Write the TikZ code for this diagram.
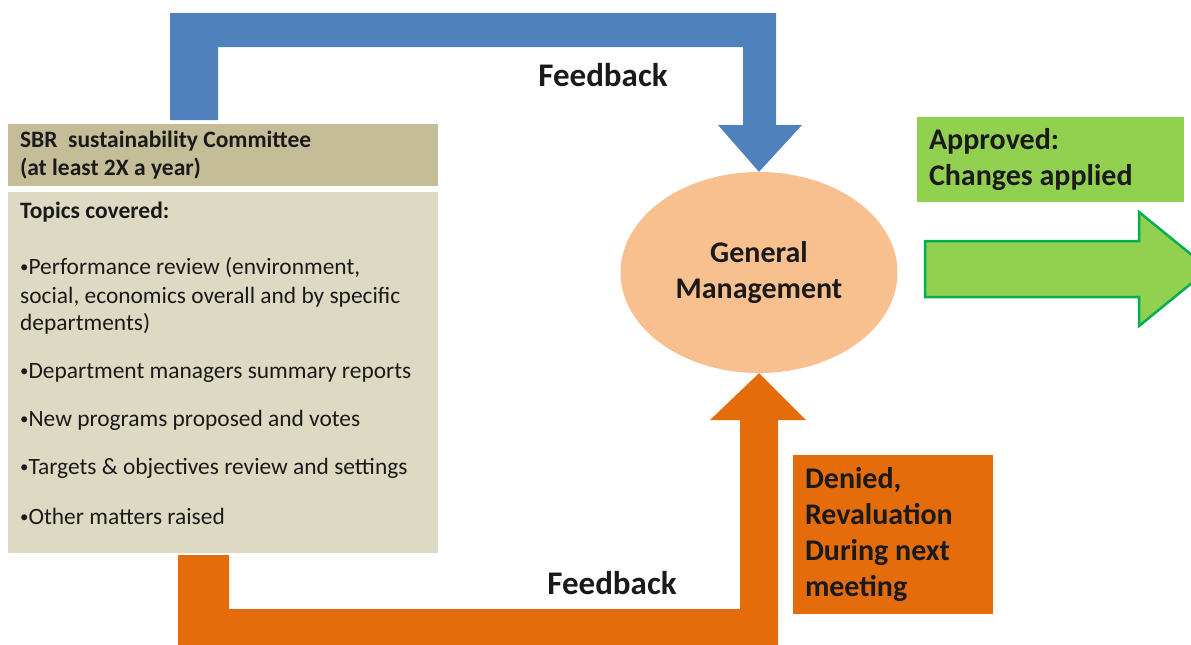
\documentclass[tikz,border=0pt]{standalone}
\usepackage{fontspec}
\setmainfont{Carlito}
\usetikzlibrary{shapes.geometric}
\definecolor{fbblue}{HTML}{4F81BD}
\definecolor{fborange}{HTML}{E46C0A}
\definecolor{hdrtan}{HTML}{C4BD97}
\definecolor{bodytan}{HTML}{DDD9C3}
\definecolor{gmpeach}{HTML}{F9C08F}
\definecolor{okgreen}{HTML}{92D050}
\definecolor{okedge}{HTML}{00B050}
\definecolor{ink}{HTML}{1A1A1A}
\newcommand\mybul{\raisebox{1.6pt}{\scalebox{0.72}{•}}}
\begin{document}
\begin{tikzpicture}[x=1pt,y=-1pt,
  panel/.style={rectangle, draw=none, inner sep=0pt, outer sep=0pt},
  boxtext/.style={panel, align=flush left, inner xsep=12pt, text=ink},
  listline/.style={anchor=base west, inner sep=0pt, text=ink, font=\fontsize{23.4}{28}\selectfont},
  bigtxt/.style={font=\bfseries\fontsize{30}{36}\selectfont},
  fblabel/.style={anchor=base, inner sep=0pt, text=ink, font=\bfseries\fontsize{33}{36}\selectfont}
]
\useasboundingbox (0,0) rectangle (1191,645);
\clip (0,0) rectangle (1191,645);

% committee header and body
\node[boxtext, fill=hdrtan, minimum width=430pt, minimum height=62pt, text width=406pt,
      font=\bfseries\fontsize{23.5}{28}\selectfont] (hdr) at (223,155)
  {SBR\ \ sustainability Committee\\(at least 2X a year)};
\node[panel, fill=bodytan, minimum width=430pt, minimum height=361pt] (body) at (223,372.5) {};

\node[listline, font=\bfseries\fontsize{23.5}{28}\selectfont] (t0) at (20,218) {Topics covered:};
\node[listline] (t1) at (20,274) {\mybul Performance review (environment,};
\node[listline] (t1b) at (20,303) {social, economics overall and by specific};
\node[listline] (t1c) at (20,330) {departments)};
\node[listline] (t2) at (20,378) {\mybul Department managers summary reports};
\node[listline] (t3) at (20,426) {\mybul New programs proposed and votes};
\node[listline] (t4) at (20,474) {\mybul Targets \& objectives review and settings};
\node[listline] (t5) at (20,524) {\mybul Other matters raised};

% general management
\node[ellipse, fill=gmpeach, draw=none, minimum width=277pt, minimum height=201pt, inner sep=0pt,
      align=center, text=ink, bigtxt] (gm) at (759,272.5) {General\\Management};

% approved box
\node[boxtext, fill=okgreen, minimum width=267pt, minimum height=85pt, text width=243pt, bigtxt]
  (ok) at (1050.5,159.5) {Approved:\\Changes applied};

% denied box
\node[boxtext, fill=fborange, minimum width=200pt, minimum height=159pt, text width=176pt, bigtxt]
  (deny) at (893,534.5) {Denied,\\Revaluation\\During next\\meeting};

% blue feedback arrow (committee -> general management)
\fill[fbblue] (170,120) -- (170,13) -- (776,13) -- (776,125) -- (802,125) -- (gm.north)
  -- (718,125) -- (743,125) -- (743,47) -- (218,47) -- (218,120) -- cycle;
\node[fblabel] (fb1) at (603,86) {Feedback};

% orange feedback arrow (committee -> general management)
\fill[fborange] (178,555) -- (229,555) -- (229,609) -- (740,609) -- (740,420) -- (710,420)
  -- (gm.south) -- (806,420) -- (778,420) -- (778,650) -- (178,650) -- cycle;
\node[fblabel] (fb2) at (612,594) {Feedback};

% green outgoing arrow
\coordinate (gtip) at (1209,269);
\filldraw[fill=okgreen, draw=okedge, line width=2.5pt, line join=miter]
  (925,241) -- (1139,241) -- (1139,212) -- (gtip) -- (1139,326) -- (1139,297) -- (925,297) -- cycle;
\end{tikzpicture}
\end{document}
